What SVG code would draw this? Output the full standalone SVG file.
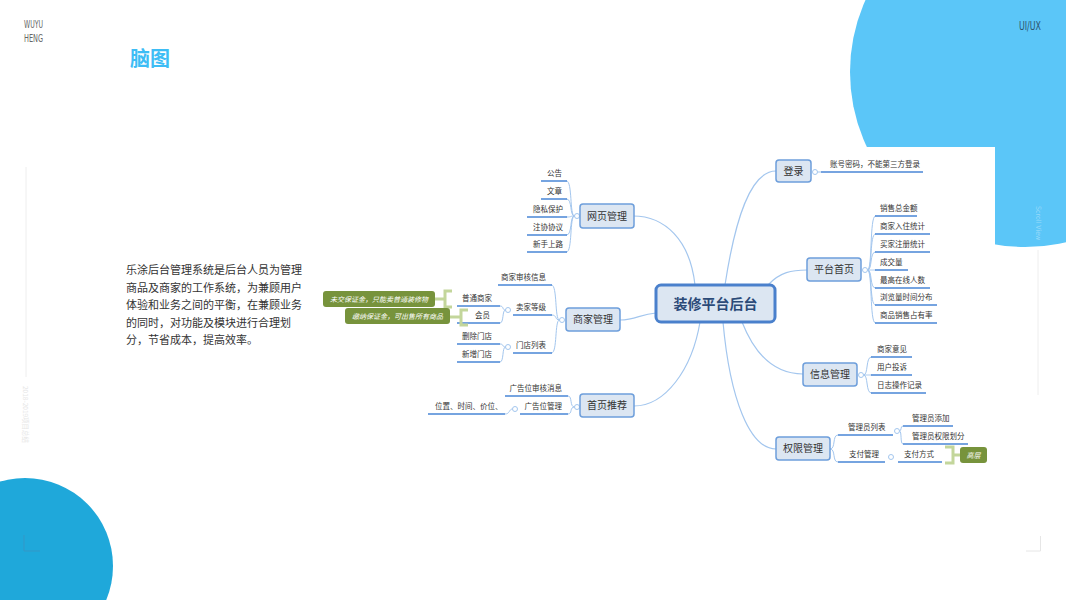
<svg xmlns="http://www.w3.org/2000/svg" width="1066" height="600" viewBox="0 0 1066 600">
<style>
.cjk{font-family:"Noto Sans CJK SC","Noto Sans",sans-serif}
.hd{font-family:"Liberation Sans Narrow","DejaVu Sans Condensed",sans-serif}
.n1 rect{fill:#DCE6F2;stroke:#6D9EDB;stroke-width:1.5}
.n1 text{font-size:10px;fill:#333;text-anchor:middle}
.t{font-size:7.5px;fill:#333}
.te{font-size:7.5px;fill:#333;text-anchor:end}
.ul{stroke:#4A86D6;stroke-width:1.6;fill:none}
.br{stroke:#A3C6EE;stroke-width:1;fill:none}
.mk{fill:#fff;stroke:#A3C6EE;stroke-width:1}
.gb{fill:#77933C}
.gt{font-size:7px;fill:#fff;font-style:italic;text-anchor:middle}
.gk{stroke:#C3D69B;stroke-width:3;fill:none}
</style>
<rect width="1066" height="600" fill="#fff"/>
<!-- decorations -->
<circle cx="1025" cy="72" r="175" fill="#5BC6F8"/>
<circle cx="25" cy="566" r="88" fill="#1FA8DA"/>
<rect x="860" y="147" width="135" height="110" fill="#fff"/>
<text class="hd" x="24" y="28" font-size="10" fill="#666" textLength="19" lengthAdjust="spacingAndGlyphs">WUYU</text>
<text class="hd" x="24" y="42" font-size="10" fill="#666" textLength="19" lengthAdjust="spacingAndGlyphs">HENG</text>
<text class="hd" x="1019" y="30" font-size="12" fill="#2E5670" textLength="22" lengthAdjust="spacingAndGlyphs">UI/UX</text>
<text class="cjk" x="130" y="66" font-size="20" font-weight="bold" fill="#3DBDF5">脑图</text>
<line x1="26" y1="167" x2="26" y2="377" stroke="#eee" stroke-width="1"/>
<text class="cjk" transform="translate(23,386) rotate(90)" font-size="6.5" fill="#e6e6e6">2018-2019项目总结</text>
<line x1="1038" y1="250" x2="1038" y2="395" stroke="#eee" stroke-width="1"/>
<text class="hd" transform="translate(1036,206) rotate(90)" font-size="7" fill="#fff" fill-opacity="0.35">Scroll View</text>
<path d="M24 535 V551 H40" fill="none" stroke="#3597C6" stroke-width="1"/>
<path d="M1040.5 536 V551 H1026" fill="none" stroke="#e6e6e6" stroke-width="1"/>
<g class="cjk" font-size="11" fill="#333">
<text x="126" y="274">乐涂后台管理系统是后台人员为管理</text>
<text x="126" y="292">商品及商家的工作系统，为兼顾用户</text>
<text x="126" y="309">体验和业务之间的平衡，在兼顾业务</text>
<text x="126" y="327">的同时，对功能及模块进行合理划</text>
<text x="126" y="344">分，节省成本，提高效率。</text>
</g>
<!-- connectors -->
<g id="connectors">
<g stroke="#A3C6EE" stroke-width="1.2" fill="none">
<path d="M725 285 C735 220 750 171 776 171"/>
<path d="M695 285 C690 240 665 216 633 216"/>
<path d="M656 313 C640 314 636 320 620 320"/>
<path d="M768 285 C780 272 792 270 807 270"/>
<path d="M700 322 C692 370 665 406 634 406"/>
<path d="M742 322 C755 355 775 374 803 374"/>
<path d="M723 322 C730 400 750 449 776 449"/>
</g>
<g class="br">
<path d="M574.5 216 C569.5 216 572.5 181 566.5 181"/>
<path d="M574.5 216 C569.5 216 572.5 199 566.5 199"/>
<path d="M574.5 216 C569.5 216 572.5 217 566.5 217"/>
<path d="M574.5 216 C569.5 216 572.5 235 566.5 235"/>
<path d="M574.5 216 C569.5 216 572.5 252 566.5 252"/>
<path d="M559.5 320 C554.5 320 557.5 285 551.5 285"/>
<path d="M559.5 320 C554.5 320 557.5 315 551.5 315"/>
<path d="M559.5 320 C554.5 320 557.5 353 551.5 353"/>
<path d="M505.5 310 C502 310 504 306 500 306"/>
<path d="M505.5 310 C502 310 504 323 500 323"/>
<path d="M505.5 347 C502 347 504 344 500 344"/>
<path d="M505.5 347 C502 347 504 362 500 362"/>
<path d="M574.5 407 C569.5 407 572.5 396 568 396"/>
<path d="M574.5 407 C569.5 407 572.5 414 568 414"/>
<path d="M512.5 409 C509 409 510 414 505 414"/>
<path d="M817.5 172 H821"/>
<path d="M867.5 270 C872.5 270 869.5 216 875.5 216"/>
<path d="M867.5 270 C872.5 270 869.5 234 875.5 234"/>
<path d="M867.5 270 C872.5 270 869.5 252 875.5 252"/>
<path d="M867.5 270 C872.5 270 869.5 270 875.5 270"/>
<path d="M867.5 270 C872.5 270 869.5 288 875.5 288"/>
<path d="M867.5 270 C872.5 270 869.5 305 875.5 305"/>
<path d="M867.5 270 C872.5 270 869.5 323 875.5 323"/>
<path d="M863.5 375 C868.5 375 865.5 357 871.5 357"/>
<path d="M863.5 375 C868.5 375 865.5 375 871.5 375"/>
<path d="M863.5 375 C868.5 375 865.5 393 871.5 393"/>
<path d="M830 449 C836 449 832 435 838 435"/>
<path d="M830 449 C836 449 832 462 838 462"/>
<path d="M899.5 431 C902 431 900 426 903 426"/>
<path d="M899.5 431 C902 431 900 444 903 444"/>
</g>
<g class="ul">
<path d="M541 181 H567 M541 199 H567 M527 217 H567 M527 235 H567 M527 252 H567"/>
<path d="M498 285 H552 M513 315 H552 M513 353 H552"/>
<path d="M457 306 H500 M457 323 H500 M457 344 H500 M457 362 H500"/>
<path d="M505 396 H568 M520 414 H568 M428 414 H505"/>
<path d="M821 172 H923"/>
<path d="M875 216 H917 M875 234 H930 M875 252 H930 M875 270 H908 M875 288 H930 M875 305 H937 M875 323 H937"/>
<path d="M871 357 H912 M871 375 H912 M871 393 H926"/>
<path d="M838 435 H893 M903 426 H953 M903 444 H968 M838 462 H885 M898 462 H942"/>
</g>
<g class="gk">
<path d="M435 299 H445 M452 291 H445 V307 H452"/>
<path d="M450 317 H461 M468 310 H461 V325 H468"/>
<path d="M945 447 H953 V463 H945 M953 455 H961"/>
</g>
<g>
<circle class="mk" cx="577" cy="216" r="2.5"/>
<circle class="mk" cx="562" cy="320" r="2.5"/>
<circle class="mk" cx="508" cy="310" r="2.5"/>
<circle class="mk" cx="508" cy="347" r="2.5"/>
<circle class="mk" cx="577" cy="407" r="2.5"/>
<circle class="mk" cx="515" cy="409" r="2.5"/>
<circle class="mk" cx="815" cy="172" r="2.5"/>
<circle class="mk" cx="865" cy="270" r="2.5"/>
<circle class="mk" cx="861" cy="375" r="2.5"/>
<circle class="mk" cx="897" cy="431" r="2.5"/>
<circle class="mk" cx="891" cy="457" r="2.5"/>
</g>
</g>
<!-- center -->
<g id="center">
<rect x="656" y="285" width="119" height="37" rx="5" fill="#DCE6F2" stroke="#4A80CC" stroke-width="3"/>
<text class="cjk" x="715.5" y="308.5" font-size="14" font-weight="bold" fill="#2B4A78" text-anchor="middle">装修平台后台</text>
</g>
<!-- level 1 -->
<g id="n-login" class="n1 cjk"><rect x="776" y="160" width="35" height="22" rx="3"/><text x="793.5" y="174.5">登录</text></g>
<g id="n-web" class="n1 cjk"><rect x="580" y="204" width="54" height="24" rx="3"/><text x="607" y="219.5">网页管理</text></g>
<g id="n-merchant" class="n1 cjk"><rect x="566" y="308" width="54" height="23" rx="3"/><text x="593" y="323">商家管理</text></g>
<g id="n-home" class="n1 cjk"><rect x="807" y="258" width="54" height="23" rx="3"/><text x="834" y="273">平台首页</text></g>
<g id="n-rec" class="n1 cjk"><rect x="580" y="394" width="54" height="23" rx="3"/><text x="607" y="409">首页推荐</text></g>
<g id="n-info" class="n1 cjk"><rect x="803" y="363" width="54" height="23" rx="3"/><text x="830" y="378">信息管理</text></g>
<g id="n-perm" class="n1 cjk"><rect x="776" y="437" width="54" height="23" rx="3"/><text x="803" y="452">权限管理</text></g>
<!-- leaves -->
<g id="leaves-web" class="cjk">
<text class="te" x="562" y="176">公告</text>
<text class="te" x="562" y="194">文章</text>
<text class="te" x="563" y="212">隐私保护</text>
<text class="te" x="563" y="230">注协协议</text>
<text class="te" x="563" y="247">新手上路</text>
</g>
<g id="leaves-merchant" class="cjk">
<text class="te" x="546" y="280">商家审核信息</text>
<text class="te" x="546" y="310">卖家等级</text>
<text class="te" x="546" y="348">门店列表</text>
<text class="te" x="492" y="301">普通商家</text>
<text class="te" x="490" y="318">会员</text>
<text class="te" x="492" y="339">删除门店</text>
<text class="te" x="492" y="357">新增门店</text>
</g>
<g id="note1"><rect class="gb" x="323" y="291" width="112" height="16" rx="3"/><text class="gt cjk" x="379" y="301.5">未交保证金，只能卖普通装修物</text></g>
<g id="note2"><rect class="gb" x="345" y="308" width="105" height="16" rx="3"/><text class="gt cjk" x="397.5" y="318.5">缴纳保证金，可出售所有商品</text></g>
<g id="leaves-rec" class="cjk">
<text class="te" x="562" y="391">广告位审核消息</text>
<text class="te" x="562" y="409">广告位管理</text>
<text class="t" x="435" y="409">位置、时间、价位、</text>
</g>
<g id="leaves-login" class="cjk"><text class="t" x="830" y="167">账号密码，不能第三方登录</text></g>
<g id="leaves-home" class="cjk">
<text class="t" x="880" y="211">销售总金额</text>
<text class="t" x="880" y="229">商家入住统计</text>
<text class="t" x="880" y="247">买家注册统计</text>
<text class="t" x="880" y="265">成交量</text>
<text class="t" x="880" y="283">最高在线人数</text>
<text class="t" x="880" y="300">浏览量时间分布</text>
<text class="t" x="880" y="318">商品销售占有率</text>
</g>
<g id="leaves-info" class="cjk">
<text class="t" x="877" y="352">商家意见</text>
<text class="t" x="877" y="370">用户投诉</text>
<text class="t" x="877" y="388">日志操作记录</text>
</g>
<g id="leaves-perm" class="cjk">
<text class="t" x="848" y="430">管理员列表</text>
<text class="t" x="912" y="421">管理员添加</text>
<text class="t" x="912" y="439">管理员权限划分</text>
<text class="t" x="849" y="457">支付管理</text>
<text class="t" x="904" y="457">支付方式</text>
</g>
<g id="note3"><rect class="gb" x="960" y="447" width="27" height="16" rx="3"/><text class="gt cjk" x="973.5" y="457.5">高层</text></g>
</svg>
